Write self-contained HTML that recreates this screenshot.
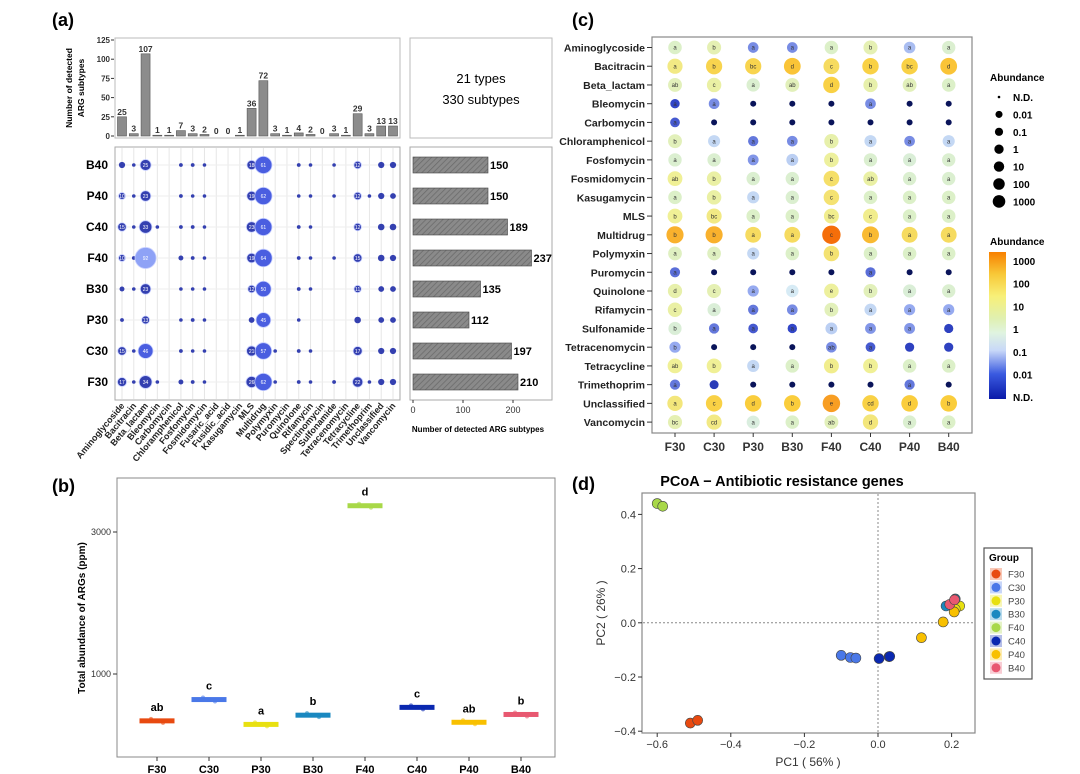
<!DOCTYPE html>
<html><head><meta charset="utf-8"><style>
html,body{margin:0;padding:0;background:#fff;}
svg{display:block;font-family:"Liberation Sans",Arial,sans-serif;}
</style></head><body>
<svg id="fig" width="1080" height="774" viewBox="0 0 1080 774">
<defs>
<pattern id="hatch" width="4" height="4" patternUnits="userSpaceOnUse" patternTransform="rotate(45)">
<rect width="4" height="4" fill="#8a8a8a"/><line x1="0" y1="0" x2="0" y2="4" stroke="#6a6a6a" stroke-width="1.5"/>
</pattern>
<linearGradient id="cbar" x1="0" y1="1" x2="0" y2="0">
<stop offset="0" stop-color="#0a1aa8"/><stop offset="0.17" stop-color="#3a5ae0"/><stop offset="0.33" stop-color="#c8d8f8"/>
<stop offset="0.45" stop-color="#e0f4e0"/><stop offset="0.55" stop-color="#e0f0b0"/><stop offset="0.7" stop-color="#f8f078"/>
<stop offset="0.85" stop-color="#f8c838"/><stop offset="1" stop-color="#f88000"/>
</linearGradient>
</defs>
<g id="pa"></g>
<g id="pb"></g>
<g id="pc"></g>
<g id="pd"></g>
</svg>
<script>
// ---- Panel A data ----
const argTypes = ["Aminoglycoside","Bacitracin","Beta_lactam","Bleomycin","Carbomycin","Chloramphenicol","Fosfomycin","Fosmidomycin","Fusaric_acid","Fusidic_acid","Kasugamycin","MLS","Multidrug","Polymyxin","Puromycin","Quinolone","Rifamycin","Spectinomycin","Sulfonamide","Tetracenomycin","Tetracycline","Trimethoprim","Unclassified","Vancomycin"];
const subtypeCounts = [25,3,107,1,1,7,3,2,0,0,1,36,72,3,1,4,2,0,3,1,29,3,13,13];
const sampleRowsA = ["B40","P40","C40","F40","B30","P30","C30","F30"];
const bubB40 = [8,2,25,0,0,3,3,2,0,0,0,18,61,0,0,3,2,0,1,0,12,0,8,8];
const bubP40 = [10,1,23,0,0,3,2,2,0,0,0,19,62,0,0,2,2,0,1,0,12,2,8,7];
const bubC40 = [15,2,33,1,0,3,3,2,0,0,0,23,61,0,0,3,2,0,0,0,12,0,9,9];
const bubF40 = [10,3,92,0,0,5,3,2,0,0,0,19,64,0,0,3,2,0,2,0,15,0,9,8];
const bubB30 = [5,2,23,0,0,2,2,2,0,0,0,12,50,0,0,3,2,0,0,0,11,0,7,7];
const bubP30 = [3,0,13,0,0,2,3,2,0,0,0,7,45,0,0,2,0,0,0,0,9,0,7,7];
const bubC30 = [15,2,46,0,0,3,2,2,0,0,0,21,57,2,0,3,2,0,0,0,17,0,8,8];
const bubF30 = [17,2,34,1,0,5,3,2,0,0,0,26,62,2,0,3,2,0,3,0,22,2,8,8];
const bubRows = [bubB40,bubP40,bubC40,bubF40,bubB30,bubP30,bubC30,bubF30];
const totalSubtypes = [150,150,189,237,135,112,197,210];
const topTicks = [0,25,50,75,100,125];
const hTicks = [0,100,200];
// ---- Panel B data ----
const groups = ["F30","C30","P30","B30","F40","C40","P40","B40"];
const totalAbund = [340,640,290,420,3370,530,320,430];
const sigLetters = ["ab","c","a","b","d","c","ab","b"];
const bTicks = [1000,3000];
// ---- Panel C data ----
const classes = ["Aminoglycoside","Bacitracin","Beta_lactam","Bleomycin","Carbomycin","Chloramphenicol","Fosfomycin","Fosmidomycin","Kasugamycin","MLS","Multidrug","Polymyxin","Puromycin","Quinolone","Rifamycin","Sulfonamide","Tetracenomycin","Tetracycline","Trimethoprim","Unclassified","Vancomycin"];
const logAbund = [
[0.3,0.6,-1.3,-1.3,0.3,0.6,-0.8,0.2],
[1.2,1.8,1.8,2.1,1.6,1.9,1.9,2.1],
[0.5,0.8,0.2,0.5,1.9,0.7,0.5,0.3],
[-2,-1.3,-3,-3,-3,-1.3,-3,-3],
[-1.8,-3,-3,-3,-3,-3,-3,-3],
[0.5,-0.5,-1.5,-1.3,0.7,-0.5,-1.3,-0.5],
[0.2,0.2,-1.2,-0.6,0.9,0.2,0.1,0.2],
[1.0,0.8,0.2,0.2,1.5,0.8,0.2,0.2],
[0.3,0.8,-0.5,0.2,1.4,0.3,0.3,0.3],
[1.0,1.2,0.3,0.3,1.1,1.1,0.3,0.3],
[2.3,2.3,1.6,1.6,3.0,2.2,1.6,1.6],
[0.4,0.4,-0.5,0.3,1.4,0.3,0.3,0.3],
[-1.6,-3,-3,-3,-3,-1.6,-3,-3],
[0.7,0.6,-1,-0.3,0.9,0.5,0.1,0.2],
[0.8,0.1,-1.5,-1.3,0.5,-0.5,-1,-1],
[0.1,-1.5,-1.8,-2.0,-0.6,-1.2,-1.2,-2.1],
[-1,-3,-3,-3,-1.3,-1.8,-2.1,-2.1],
[1.0,1.0,-0.5,0.3,1.1,1.0,0.3,0.3],
[-1.5,-2.2,-3,-3,-3,-3,-1.5,-3],
[1.3,1.9,2.0,2.0,2.5,1.9,2.0,2.0],
[0.6,1.2,0.0,0.3,0.5,1.3,0.2,0.3]];
const cellLetters = [
["a","b","a","a","a","b","a","a"],["a","b","bc","d","c","b","bc","d"],["ab","c","a","ab","d","b","ab","a"],
["a","a","","","","a","",""],["a","","","","","","",""],["b","a","a","a","b","a","a","a"],
["a","a","a","a","b","a","a","a"],["ab","b","a","a","c","ab","a","a"],["a","b","a","a","c","a","a","a"],
["b","bc","a","a","bc","c","a","a"],["b","b","a","a","c","b","a","a"],["a","a","a","a","b","a","a","a"],
["a","","","","","a","",""],["d","c","a","a","e","b","a","a"],["c","a","a","a","b","a","a","a"],
["b","a","a","a","a","a","a",""],["b","","","","ab","a","",""],["ab","b","a","a","b","b","a","a"],
["a","","","","","","a",""],["a","c","d","b","e","cd","d","b"],["bc","cd","a","a","ab","d","a","a"]];
const sizeLegend = ["N.D.","0.01","0.1","1","10","100","1000"];
const colorLegend = ["1000","100","10","1","0.1","0.01","N.D."];
// ---- Panel D data ----
const pcGroups = ["F30","C30","P30","B30","F40","C40","P40","B40"];
const pcColors = ["#e84a10","#4a78e8","#e8e010","#1a88c0","#a8d848","#0a28b0","#f8c000","#e85870"];
const pc1 = [[-0.51,-0.49],[-0.10,-0.075,-0.06],[0.222,0.21],[0.185,0.21],[-0.60,-0.585],[0.003,0.03,0.032],[0.118,0.177,0.207],[0.195,0.208]];
const pc2 = [[-0.37,-0.36],[-0.12,-0.128,-0.13],[0.062,0.05],[0.062,0.088],[0.44,0.43],[-0.132,-0.125,-0.124],[-0.055,0.003,0.04],[0.068,0.085]];
const pcXTicks = [-0.6,-0.4,-0.2,0.0,0.2];
const pcYTicks = [-0.4,-0.2,0.0,0.2,0.4];

const NS="http://www.w3.org/2000/svg";
function mk(parent,tag,attrs,txt){const e=document.createElementNS(NS,tag);for(const k in attrs)e.setAttribute(k,attrs[k]);if(txt!==undefined)e.textContent=txt;parent.appendChild(e);return e;}

// ===== PANEL A =====
const pa=document.getElementById('pa');
let t=mk(pa,'text',{x:52,y:26,'font-size':18,'font-weight':'bold'},'(a)');

const colX=i=>122+i*(271/23);
const topY=v=>136-v*96/125;
let r=mk(pa,'rect',{x:115,y:38,width:285,height:100,fill:'none',stroke:'#bbb'});

topTicks.forEach(v=>{
 let tk=mk(pa,'text',{x:110,y:topY(v)+3,'font-size':8,'font-weight':'bold','text-anchor':'end',fill:'#333'},v);
 
 mk(pa,'line',{x1:111,x2:114,y1:topY(v),y2:topY(v),stroke:'#333'});
});
t=mk(pa,'text',{transform:'translate(72,88) rotate(-90)','font-size':8.5,'font-weight':'bold','text-anchor':'middle'},'Number of detected');

t=mk(pa,'text',{transform:'translate(84,88) rotate(-90)','font-size':8.5,'font-weight':'bold','text-anchor':'middle'},'ARG subtypes');

subtypeCounts.forEach((v,i)=>{
 let b=mk(pa,'rect',{x:colX(i)-4.5,y:topY(v),width:9,height:136-topY(v),fill:'#8c8c8c',stroke:'#555','stroke-width':0.6});
 
 let l=mk(pa,'text',{x:colX(i),y:topY(v)-2,'font-size':8.5,'font-weight':'bold','text-anchor':'middle',fill:'#333'},v);
 
});
r=mk(pa,'rect',{x:410,y:38,width:142,height:100,fill:'none',stroke:'#bbb'});

t=mk(pa,'text',{x:481,y:83,'font-size':13,'text-anchor':'middle'},'21 types');

t=mk(pa,'text',{x:481,y:104,'font-size':13,'text-anchor':'middle'},'330 subtypes');

// bubble grid
r=mk(pa,'rect',{x:115,y:147,width:285,height:253,fill:'none',stroke:'#aaa'});

const rowY=j=>165+j*31;
argTypes.forEach((n,i)=>{
 mk(pa,'line',{x1:colX(i),x2:colX(i),y1:148,y2:399,stroke:'#e6e6e6'});
 let l=mk(pa,'text',{transform:`translate(${colX(i)+3},${406}) rotate(-50)`,'font-size':9,'font-weight':'bold','text-anchor':'end',fill:'#222'},n);
 
});
sampleRowsA.forEach((s,j)=>{
 mk(pa,'line',{x1:116,x2:399,y1:rowY(j),y2:rowY(j),stroke:'#eee'});
 let l=mk(pa,'text',{x:108,y:rowY(j)+4,'font-size':12,'font-weight':'bold','text-anchor':'end'},s);
 
 bubRows[j].forEach((v,i)=>{
  if(v<=0)return;
  const rad=Math.max(1.8,1.1*Math.sqrt(v));
  const col=v>80?'#8ea2f6':(v>40?'#4a5ee0':'#3440b0');
  let c=mk(pa,'circle',{cx:colX(i),cy:rowY(j),r:rad,fill:col,stroke:v>=10?'#c8d0ff':'none','stroke-width':0.8});
  
  if(v>=10){let n=mk(pa,'text',{x:colX(i),y:rowY(j)+2,'font-size':5,'text-anchor':'middle',fill:'#fff'},v);
   }
 });
});
// horizontal bars
r=mk(pa,'rect',{x:410,y:147,width:142,height:253,fill:'none',stroke:'#aaa'});

const hx=v=>413+v*0.5;
totalSubtypes.forEach((v,j)=>{
 let b=mk(pa,'rect',{x:hx(0),y:rowY(j)-8,width:hx(v)-hx(0),height:16,fill:'url(#hatch)',stroke:'#444','stroke-width':0.6});
 
 let l=mk(pa,'text',{x:hx(v)+2,y:rowY(j)+4,'font-size':11,'font-weight':'bold'},v);
 
});
hTicks.forEach(v=>{
 mk(pa,'line',{x1:hx(v),x2:hx(v),y1:400,y2:403,stroke:'#333'});
 let l=mk(pa,'text',{x:hx(v),y:413,'font-size':9,'text-anchor':'middle',fill:'#333'},v);
 
});
t=mk(pa,'text',{x:478,y:432,'font-size':8,'font-weight':'bold','text-anchor':'middle'},'Number of detected ARG subtypes');


// ===== PANEL B =====
const pb=document.getElementById('pb');
t=mk(pb,'text',{x:52,y:492,'font-size':18,'font-weight':'bold'},'(b)');

r=mk(pb,'rect',{x:117,y:478,width:438,height:279,fill:'none',stroke:'#888'});

const bY=v=>745-v*0.071;
const bX=i=>157+i*52;
bTicks.forEach(v=>{
 mk(pb,'line',{x1:113,x2:117,y1:bY(v),y2:bY(v),stroke:'#333'});
 let l=mk(pb,'text',{x:111,y:bY(v)+3,'font-size':9,'text-anchor':'end',fill:'#333'},v);
 
});
t=mk(pb,'text',{transform:'translate(85,618) rotate(-90)','font-size':10,'font-weight':'bold','text-anchor':'middle'},'Total abundance of ARGs (ppm)');

groups.forEach((g,i)=>{
 const y=bY(totalAbund[i]);
 let bx=mk(pb,'rect',{x:bX(i)-17,y:y-2,width:34,height:4,fill:pcColors[i],stroke:pcColors[i]});
 
 [-6,0,6].forEach(d=>mk(pb,'circle',{cx:bX(i)+d,cy:y+(d/3),r:2,fill:pcColors[i],opacity:0.6}));
 let l=mk(pb,'text',{x:bX(i),y:y-10,'font-size':11,'font-weight':'bold','text-anchor':'middle'},sigLetters[i]);
 
 mk(pb,'line',{x1:bX(i),x2:bX(i),y1:757,y2:761,stroke:'#333'});
 let x=mk(pb,'text',{x:bX(i),y:773,'font-size':11,'font-weight':'bold','text-anchor':'middle'},g);
 
});

// ===== PANEL C =====
const pc=document.getElementById('pc');
t=mk(pc,'text',{x:572,y:26,'font-size':18,'font-weight':'bold'},'(c)');

r=mk(pc,'rect',{x:652,y:37,width:320,height:396,fill:'none',stroke:'#888','stroke-width':1.2});

const cX=i=>675+i*39.1;
const cY=j=>47.5+j*18.73;
function colorFor(l){
 const stops=[[-3,[10,20,120]],[-2,[50,70,200]],[-1,[150,170,240]],[-0.3,[215,235,245]],[0.3,[220,240,200]],[1,[240,240,150]],[2,[250,205,60]],[3,[245,110,10]]];
 if(l<=-3)return 'rgb(10,20,90)';
 for(let k=0;k<stops.length-1;k++){const a=stops[k],b=stops[k+1];if(l<=b[0]){const f=(l-a[0])/(b[0]-a[0]);return 'rgb('+a[1].map((c,q)=>Math.round(c+(b[1][q]-c)*f)).join(',')+')';}}
 return 'rgb(245,110,10)';
}
classes.forEach((cl,j)=>{
 let l=mk(pc,'text',{x:645,y:cY(j)+4,'font-size':10.5,'font-weight':'bold','text-anchor':'end',fill:'#222'},cl);
 
 mk(pc,'line',{x1:647,x2:652,y1:cY(j),y2:cY(j),stroke:'#333'});
 logAbund[j].forEach((v,i)=>{
  const rad=v<=-3?2.2:6.5+0.9*v;
  let c=mk(pc,'circle',{cx:cX(i),cy:cY(j),r:Math.max(rad,3),fill:colorFor(v)});
  
  const lt=cellLetters[j][i];
  if(lt){let s=mk(pc,'text',{x:cX(i),y:cY(j)+2.2,'font-size':6,'text-anchor':'middle',fill:'#333'},lt);
   }
 });
});
groups.forEach((g,i)=>{
 mk(pc,'line',{x1:cX(i),x2:cX(i),y1:433,y2:437,stroke:'#333'});
 let l=mk(pc,'text',{x:cX(i),y:451,'font-size':12,'font-weight':'bold','text-anchor':'middle',fill:'#333'},g);
 
});
t=mk(pc,'text',{x:990,y:81,'font-size':10,'font-weight':'bold'},'Abundance');

sizeLegend.forEach((s,k)=>{
 const y=97+k*17.4;
 let c=mk(pc,'circle',{cx:999,cy:y,r:k===0?1.3:3+k*0.55,fill:'#000'});
 
 let l=mk(pc,'text',{x:1013,y:y+4,'font-size':10,'font-weight':'bold'},s);
 
});
t=mk(pc,'text',{x:990,y:245,'font-size':10,'font-weight':'bold'},'Abundance');

r=mk(pc,'rect',{x:989,y:252,width:17,height:147,fill:'url(#cbar)'});

colorLegend.forEach((s,k)=>{
 let l=mk(pc,'text',{x:1013,y:265+k*22.7,'font-size':10,'font-weight':'bold'},s);
 
});

// ===== PANEL D =====
const pd=document.getElementById('pd');
t=mk(pd,'text',{x:572,y:490,'font-size':18,'font-weight':'bold'},'(d)');

t=mk(pd,'text',{x:782,y:486,'font-size':14.5,'font-weight':'bold','text-anchor':'middle'},'PCoA \u2212 Antibiotic resistance genes');

const dX=v=>878+v*368;
const dY=v=>622.8-v*271;
r=mk(pd,'rect',{x:642,y:493,width:333,height:240,fill:'none',stroke:'#888','stroke-width':1.2});

mk(pd,'line',{x1:dX(0),x2:dX(0),y1:494,y2:732,stroke:'#888','stroke-dasharray':'2,2'});
mk(pd,'line',{x1:643,x2:974,y1:dY(0),y2:dY(0),stroke:'#888','stroke-dasharray':'2,2'});
pcXTicks.forEach(v=>{
 mk(pd,'line',{x1:dX(v),x2:dX(v),y1:733,y2:737,stroke:'#333'});
 let l=mk(pd,'text',{x:dX(v),y:748,'font-size':11,'text-anchor':'middle',fill:'#333'},(v<0?'\u2212':'')+Math.abs(v).toFixed(1));
 
});
pcYTicks.forEach(v=>{
 mk(pd,'line',{x1:638,x2:642,y1:dY(v),y2:dY(v),stroke:'#333'});
 let l=mk(pd,'text',{x:636,y:dY(v)+4,'font-size':11,'text-anchor':'end',fill:'#333'},(v<0?'\u2212':'')+Math.abs(v).toFixed(1));
 
});
t=mk(pd,'text',{x:808,y:766,'font-size':12,'text-anchor':'middle',fill:'#333'},'PC1 ( 56% )');

t=mk(pd,'text',{transform:'translate(605,613) rotate(-90)','font-size':12,'text-anchor':'middle',fill:'#333'},'PC2 ( 26% )');

pcGroups.forEach((g,i)=>{
 pc1[i].forEach((x,k)=>{
  let c=mk(pd,'circle',{cx:dX(x),cy:dY(pc2[i][k]),r:5,fill:pcColors[i],stroke:'#444','stroke-width':0.6});
  
 });
});
r=mk(pd,'rect',{x:984,y:548,width:48,height:131,fill:'#fff',stroke:'#555','stroke-width':1.2});

t=mk(pd,'text',{x:989,y:561,'font-size':10,'font-weight':'bold'},'Group');

pcGroups.forEach((g,i)=>{
 const y=574+i*13.4;
 mk(pd,'rect',{x:990,y:y-6,width:12,height:12,fill:pcColors[i],opacity:0.3});
 let c=mk(pd,'circle',{cx:996,cy:y,r:4.5,fill:pcColors[i]});
 
 let l=mk(pd,'text',{x:1008,y:y+3.5,'font-size':9.5,fill:'#444'},g);
 
});
</script>
</body></html>
